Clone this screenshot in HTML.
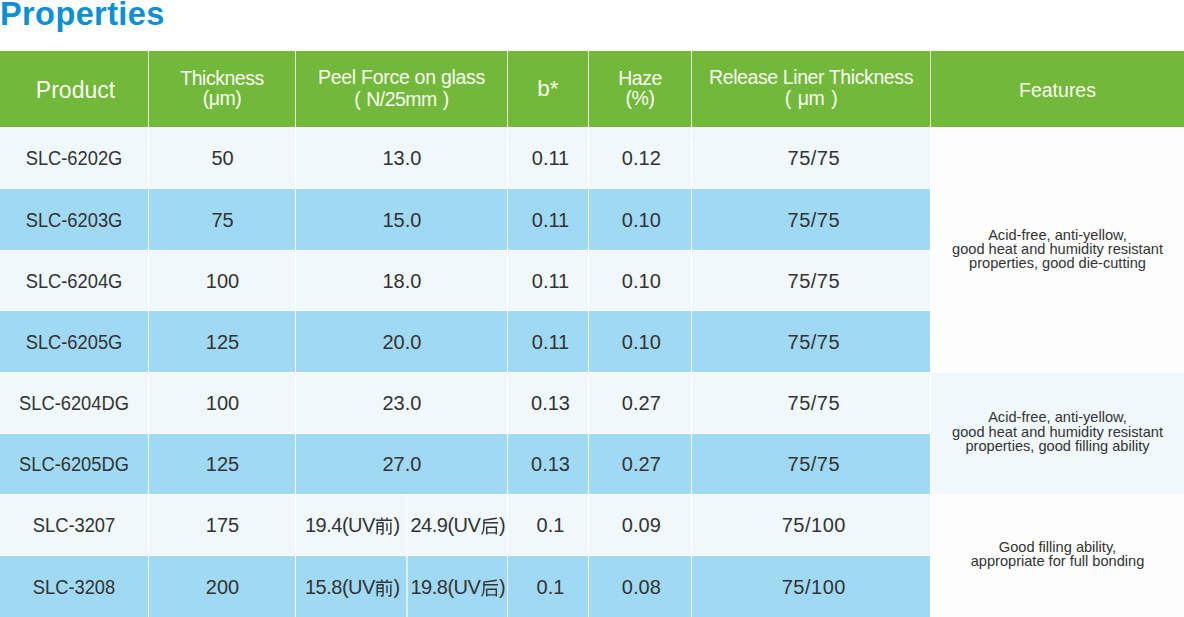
<!DOCTYPE html>
<html><head><meta charset="utf-8"><style>
html,body{margin:0;padding:0;background:#fff;}
body{width:1184px;height:617px;position:relative;overflow:hidden;font-family:"Liberation Sans",sans-serif;}
.r{position:absolute;}
.t{position:absolute;white-space:nowrap;}
.cjk{display:inline-block;width:18px;height:18px;vertical-align:-3px;margin-right:0.5px;}
</style></head><body>
<div class="t" style="left:0px;width:400px;top:-10.26px;height:49px;line-height:49px;font-size:32.5px;color:#0b8fd5;letter-spacing:0.4px;font-weight:700;text-align:left;">Properties</div>
<div class="r" style="left:0px;top:51px;width:1184px;height:76px;background:#72b83a"></div>
<div class="r" style="left:0px;top:128px;width:930px;height:60px;background:#f0f8fc"></div>
<div class="r" style="left:0px;top:189px;width:930px;height:61px;background:#a0d9f4"></div>
<div class="r" style="left:0px;top:251px;width:930px;height:59px;background:#f0f8fc"></div>
<div class="r" style="left:0px;top:311px;width:930px;height:61px;background:#a0d9f4"></div>
<div class="r" style="left:0px;top:373px;width:930px;height:60px;background:#f0f8fc"></div>
<div class="r" style="left:0px;top:434px;width:930px;height:60px;background:#a0d9f4"></div>
<div class="r" style="left:0px;top:495px;width:930px;height:60px;background:#f0f8fc"></div>
<div class="r" style="left:0px;top:556px;width:930px;height:61px;background:#a0d9f4"></div>
<div class="r" style="left:931px;top:128px;width:253px;height:244px;background:#fdfdfd"></div>
<div class="r" style="left:931px;top:373px;width:253px;height:121px;background:#f0f8fc"></div>
<div class="r" style="left:931px;top:495px;width:253px;height:122px;background:#fdfdfd"></div>
<div class="r" style="left:148px;top:51px;width:1px;height:76px;background:#eefbdc"></div>
<div class="r" style="left:148px;top:127px;width:1px;height:490px;background:#ffffff"></div>
<div class="r" style="left:295px;top:51px;width:1px;height:76px;background:#eefbdc"></div>
<div class="r" style="left:295px;top:127px;width:1px;height:490px;background:#ffffff"></div>
<div class="r" style="left:507px;top:51px;width:1px;height:76px;background:#eefbdc"></div>
<div class="r" style="left:507px;top:127px;width:1px;height:490px;background:#ffffff"></div>
<div class="r" style="left:588px;top:51px;width:1px;height:76px;background:#eefbdc"></div>
<div class="r" style="left:588px;top:127px;width:1px;height:490px;background:#ffffff"></div>
<div class="r" style="left:691px;top:51px;width:1px;height:76px;background:#eefbdc"></div>
<div class="r" style="left:691px;top:127px;width:1px;height:490px;background:#ffffff"></div>
<div class="r" style="left:930px;top:51px;width:1px;height:76px;background:#eefbdc"></div>
<div class="r" style="left:930px;top:127px;width:1px;height:490px;background:#ffffff"></div>
<div class="r" style="left:406px;top:495px;width:2px;height:60px;background:#f9fcfe"></div>
<div class="r" style="left:406px;top:556px;width:2px;height:61px;background:#d8f2fc"></div>
<div class="t" style="left:1.5px;width:148.0px;top:73.43px;height:34px;line-height:34px;font-size:23px;color:#fbfff2;letter-spacing:0px;font-weight:400;text-align:center;">Product</div>
<div class="t" style="left:149px;width:146px;top:63.54px;height:29px;line-height:29px;font-size:19.5px;color:#fbfff2;letter-spacing:-0.5px;font-weight:400;text-align:center;">Thickness</div>
<div class="t" style="left:149px;width:146px;top:83.54px;height:29px;line-height:29px;font-size:19.5px;color:#fbfff2;letter-spacing:-0.5px;font-weight:400;text-align:center;">(μm)</div>
<div class="t" style="left:296px;width:211px;top:63.24px;height:29px;line-height:29px;font-size:19.5px;color:#fbfff2;letter-spacing:-0.28px;font-weight:400;text-align:center;">Peel Force on glass</div>
<div class="t" style="left:296px;width:211px;top:84.54px;height:29px;line-height:29px;font-size:19.5px;color:#fbfff2;letter-spacing:-0.5px;font-weight:400;text-align:center;">(<span style="margin-left:6px"></span>N/25mm<span style="margin-left:6px"></span>)</div>
<div class="t" style="left:508px;width:80px;top:71.90px;height:34px;line-height:34px;font-size:22.5px;color:#fbfff2;letter-spacing:0px;font-weight:400;text-align:center;">b*</div>
<div class="t" style="left:589px;width:102px;top:63.54px;height:29px;line-height:29px;font-size:19.5px;color:#fbfff2;letter-spacing:-0.5px;font-weight:400;text-align:center;">Haze</div>
<div class="t" style="left:589px;width:102px;top:83.54px;height:29px;line-height:29px;font-size:19.5px;color:#fbfff2;letter-spacing:-0.5px;font-weight:400;text-align:center;">(%)</div>
<div class="t" style="left:692px;width:238px;top:63.44px;height:29px;line-height:29px;font-size:19.5px;color:#fbfff2;letter-spacing:-0.4px;font-weight:400;text-align:center;">Release Liner Thickness</div>
<div class="t" style="left:692px;width:238px;top:83.54px;height:29px;line-height:29px;font-size:19.5px;color:#fbfff2;letter-spacing:-0.5px;font-weight:400;text-align:center;">(<span style="margin-left:7px"></span>μm<span style="margin-left:7px"></span>)</div>
<div class="t" style="left:931px;width:253px;top:75.74px;height:29px;line-height:29px;font-size:19.5px;color:#fbfff2;letter-spacing:0px;font-weight:400;text-align:center;">Features</div>
<div class="t" style="left:-0.5px;width:148.0px;top:143.37px;height:30px;line-height:30px;font-size:20px;color:#333333;letter-spacing:0px;font-weight:400;text-align:center;transform:scaleX(0.915);transform-origin:50% 50%;">SLC-6202G</div>
<div class="t" style="left:149.5px;width:146.0px;top:143.37px;height:30px;line-height:30px;font-size:20px;color:#333333;letter-spacing:0px;font-weight:400;text-align:center;">50</div>
<div class="t" style="left:296.4px;width:211.0px;top:143.37px;height:30px;line-height:30px;font-size:20px;color:#333333;letter-spacing:0px;font-weight:400;text-align:center;">13.0</div>
<div class="t" style="left:510.5px;width:80.0px;top:143.37px;height:30px;line-height:30px;font-size:20px;color:#333333;letter-spacing:0px;font-weight:400;text-align:center;">0.11</div>
<div class="t" style="left:590.3px;width:102.0px;top:143.37px;height:30px;line-height:30px;font-size:20px;color:#333333;letter-spacing:0px;font-weight:400;text-align:center;">0.12</div>
<div class="t" style="left:694.8px;width:238.0px;top:143.37px;height:30px;line-height:30px;font-size:20px;color:#333333;letter-spacing:0.5px;font-weight:400;text-align:center;">75/75</div>
<div class="t" style="left:-0.5px;width:148.0px;top:204.87px;height:30px;line-height:30px;font-size:20px;color:#333333;letter-spacing:0px;font-weight:400;text-align:center;transform:scaleX(0.915);transform-origin:50% 50%;">SLC-6203G</div>
<div class="t" style="left:149.5px;width:146.0px;top:204.87px;height:30px;line-height:30px;font-size:20px;color:#333333;letter-spacing:0px;font-weight:400;text-align:center;">75</div>
<div class="t" style="left:296.4px;width:211.0px;top:204.87px;height:30px;line-height:30px;font-size:20px;color:#333333;letter-spacing:0px;font-weight:400;text-align:center;">15.0</div>
<div class="t" style="left:510.5px;width:80.0px;top:204.87px;height:30px;line-height:30px;font-size:20px;color:#333333;letter-spacing:0px;font-weight:400;text-align:center;">0.11</div>
<div class="t" style="left:590.3px;width:102.0px;top:204.87px;height:30px;line-height:30px;font-size:20px;color:#333333;letter-spacing:0px;font-weight:400;text-align:center;">0.10</div>
<div class="t" style="left:694.8px;width:238.0px;top:204.87px;height:30px;line-height:30px;font-size:20px;color:#333333;letter-spacing:0.5px;font-weight:400;text-align:center;">75/75</div>
<div class="t" style="left:-0.5px;width:148.0px;top:266.37px;height:30px;line-height:30px;font-size:20px;color:#333333;letter-spacing:0px;font-weight:400;text-align:center;transform:scaleX(0.915);transform-origin:50% 50%;">SLC-6204G</div>
<div class="t" style="left:149.5px;width:146.0px;top:266.37px;height:30px;line-height:30px;font-size:20px;color:#333333;letter-spacing:0px;font-weight:400;text-align:center;">100</div>
<div class="t" style="left:296.4px;width:211.0px;top:266.37px;height:30px;line-height:30px;font-size:20px;color:#333333;letter-spacing:0px;font-weight:400;text-align:center;">18.0</div>
<div class="t" style="left:510.5px;width:80.0px;top:266.37px;height:30px;line-height:30px;font-size:20px;color:#333333;letter-spacing:0px;font-weight:400;text-align:center;">0.11</div>
<div class="t" style="left:590.3px;width:102.0px;top:266.37px;height:30px;line-height:30px;font-size:20px;color:#333333;letter-spacing:0px;font-weight:400;text-align:center;">0.10</div>
<div class="t" style="left:694.8px;width:238.0px;top:266.37px;height:30px;line-height:30px;font-size:20px;color:#333333;letter-spacing:0.5px;font-weight:400;text-align:center;">75/75</div>
<div class="t" style="left:-0.5px;width:148.0px;top:327.37px;height:30px;line-height:30px;font-size:20px;color:#333333;letter-spacing:0px;font-weight:400;text-align:center;transform:scaleX(0.915);transform-origin:50% 50%;">SLC-6205G</div>
<div class="t" style="left:149.5px;width:146.0px;top:327.37px;height:30px;line-height:30px;font-size:20px;color:#333333;letter-spacing:0px;font-weight:400;text-align:center;">125</div>
<div class="t" style="left:296.4px;width:211.0px;top:327.37px;height:30px;line-height:30px;font-size:20px;color:#333333;letter-spacing:0px;font-weight:400;text-align:center;">20.0</div>
<div class="t" style="left:510.5px;width:80.0px;top:327.37px;height:30px;line-height:30px;font-size:20px;color:#333333;letter-spacing:0px;font-weight:400;text-align:center;">0.11</div>
<div class="t" style="left:590.3px;width:102.0px;top:327.37px;height:30px;line-height:30px;font-size:20px;color:#333333;letter-spacing:0px;font-weight:400;text-align:center;">0.10</div>
<div class="t" style="left:694.8px;width:238.0px;top:327.37px;height:30px;line-height:30px;font-size:20px;color:#333333;letter-spacing:0.5px;font-weight:400;text-align:center;">75/75</div>
<div class="t" style="left:-0.5px;width:148.0px;top:388.37px;height:30px;line-height:30px;font-size:20px;color:#333333;letter-spacing:0px;font-weight:400;text-align:center;transform:scaleX(0.915);transform-origin:50% 50%;">SLC-6204DG</div>
<div class="t" style="left:149.5px;width:146.0px;top:388.37px;height:30px;line-height:30px;font-size:20px;color:#333333;letter-spacing:0px;font-weight:400;text-align:center;">100</div>
<div class="t" style="left:296.4px;width:211.0px;top:388.37px;height:30px;line-height:30px;font-size:20px;color:#333333;letter-spacing:0px;font-weight:400;text-align:center;">23.0</div>
<div class="t" style="left:510.5px;width:80.0px;top:388.37px;height:30px;line-height:30px;font-size:20px;color:#333333;letter-spacing:0px;font-weight:400;text-align:center;">0.13</div>
<div class="t" style="left:590.3px;width:102.0px;top:388.37px;height:30px;line-height:30px;font-size:20px;color:#333333;letter-spacing:0px;font-weight:400;text-align:center;">0.27</div>
<div class="t" style="left:694.8px;width:238.0px;top:388.37px;height:30px;line-height:30px;font-size:20px;color:#333333;letter-spacing:0.5px;font-weight:400;text-align:center;">75/75</div>
<div class="t" style="left:-0.5px;width:148.0px;top:449.37px;height:30px;line-height:30px;font-size:20px;color:#333333;letter-spacing:0px;font-weight:400;text-align:center;transform:scaleX(0.915);transform-origin:50% 50%;">SLC-6205DG</div>
<div class="t" style="left:149.5px;width:146.0px;top:449.37px;height:30px;line-height:30px;font-size:20px;color:#333333;letter-spacing:0px;font-weight:400;text-align:center;">125</div>
<div class="t" style="left:296.4px;width:211.0px;top:449.37px;height:30px;line-height:30px;font-size:20px;color:#333333;letter-spacing:0px;font-weight:400;text-align:center;">27.0</div>
<div class="t" style="left:510.5px;width:80.0px;top:449.37px;height:30px;line-height:30px;font-size:20px;color:#333333;letter-spacing:0px;font-weight:400;text-align:center;">0.13</div>
<div class="t" style="left:590.3px;width:102.0px;top:449.37px;height:30px;line-height:30px;font-size:20px;color:#333333;letter-spacing:0px;font-weight:400;text-align:center;">0.27</div>
<div class="t" style="left:694.8px;width:238.0px;top:449.37px;height:30px;line-height:30px;font-size:20px;color:#333333;letter-spacing:0.5px;font-weight:400;text-align:center;">75/75</div>
<div class="t" style="left:-0.5px;width:148.0px;top:510.37px;height:30px;line-height:30px;font-size:20px;color:#333333;letter-spacing:0px;font-weight:400;text-align:center;transform:scaleX(0.915);transform-origin:50% 50%;">SLC-3207</div>
<div class="t" style="left:149.5px;width:146.0px;top:510.37px;height:30px;line-height:30px;font-size:20px;color:#333333;letter-spacing:0px;font-weight:400;text-align:center;">175</div>
<div class="t" style="left:510.5px;width:80.0px;top:510.37px;height:30px;line-height:30px;font-size:20px;color:#333333;letter-spacing:0px;font-weight:400;text-align:center;">0.1</div>
<div class="t" style="left:590.3px;width:102.0px;top:510.37px;height:30px;line-height:30px;font-size:20px;color:#333333;letter-spacing:0px;font-weight:400;text-align:center;">0.09</div>
<div class="t" style="left:694.8px;width:238.0px;top:510.37px;height:30px;line-height:30px;font-size:20px;color:#333333;letter-spacing:0.5px;font-weight:400;text-align:center;">75/100</div>
<div class="t" style="left:-0.5px;width:148.0px;top:571.87px;height:30px;line-height:30px;font-size:20px;color:#333333;letter-spacing:0px;font-weight:400;text-align:center;transform:scaleX(0.915);transform-origin:50% 50%;">SLC-3208</div>
<div class="t" style="left:149.5px;width:146.0px;top:571.87px;height:30px;line-height:30px;font-size:20px;color:#333333;letter-spacing:0px;font-weight:400;text-align:center;">200</div>
<div class="t" style="left:510.5px;width:80.0px;top:571.87px;height:30px;line-height:30px;font-size:20px;color:#333333;letter-spacing:0px;font-weight:400;text-align:center;">0.1</div>
<div class="t" style="left:590.3px;width:102.0px;top:571.87px;height:30px;line-height:30px;font-size:20px;color:#333333;letter-spacing:0px;font-weight:400;text-align:center;">0.08</div>
<div class="t" style="left:694.8px;width:238.0px;top:571.87px;height:30px;line-height:30px;font-size:20px;color:#333333;letter-spacing:0.5px;font-weight:400;text-align:center;">75/100</div>
<div class="t" style="left:305px;width:95px;top:510.37px;height:30px;line-height:30px;font-size:20px;color:#333333;letter-spacing:-0.5px;font-weight:400;text-align:left;">19.4(UV<span class="cjk"><svg width="18" height="18" viewBox="0 0 18 18" fill="none" stroke="#333333" stroke-width="1.4" stroke-linecap="butt"><path d="M6.2 0.6 L7.4 2.3 M12.6 0.6 L11.5 2.4 M0.8 3.3 H17.2 M2.2 5.8 V17.3 M2.2 5.8 H8 V16.4 Q8 17 7.2 17 H5.8 M2.2 9.3 H8 M2.2 12.6 H8 M12 6.2 V14 M15.8 5.2 V16.2 Q15.8 17 15 17 H13.3"/></svg></span>)</div>
<div class="t" style="left:410.5px;width:97.0px;top:510.37px;height:30px;line-height:30px;font-size:20px;color:#333333;letter-spacing:-0.5px;font-weight:400;text-align:left;">24.9(UV<span class="cjk"><svg width="18" height="18" viewBox="0 0 18 18" fill="none" stroke="#333333" stroke-width="1.4" stroke-linecap="butt"><path d="M16.8 1.2 Q10 2.4 3.9 3.1 V10.5 Q3.9 14.5 1.7 17.4 M3.9 5.8 H18 M6.7 9.9 V17.6 M6.7 10.2 H16.3 V17.6 M6.7 15.9 H16.3"/></svg></span>)</div>
<div class="t" style="left:305px;width:95px;top:571.87px;height:30px;line-height:30px;font-size:20px;color:#333333;letter-spacing:-0.5px;font-weight:400;text-align:left;">15.8(UV<span class="cjk"><svg width="18" height="18" viewBox="0 0 18 18" fill="none" stroke="#333333" stroke-width="1.4" stroke-linecap="butt"><path d="M6.2 0.6 L7.4 2.3 M12.6 0.6 L11.5 2.4 M0.8 3.3 H17.2 M2.2 5.8 V17.3 M2.2 5.8 H8 V16.4 Q8 17 7.2 17 H5.8 M2.2 9.3 H8 M2.2 12.6 H8 M12 6.2 V14 M15.8 5.2 V16.2 Q15.8 17 15 17 H13.3"/></svg></span>)</div>
<div class="t" style="left:410.5px;width:97.0px;top:571.87px;height:30px;line-height:30px;font-size:20px;color:#333333;letter-spacing:-0.5px;font-weight:400;text-align:left;">19.8(UV<span class="cjk"><svg width="18" height="18" viewBox="0 0 18 18" fill="none" stroke="#333333" stroke-width="1.4" stroke-linecap="butt"><path d="M16.8 1.2 Q10 2.4 3.9 3.1 V10.5 Q3.9 14.5 1.7 17.4 M3.9 5.8 H18 M6.7 9.9 V17.6 M6.7 10.2 H16.3 V17.6 M6.7 15.9 H16.3"/></svg></span>)</div>
<div class="t" style="left:931px;width:253px;top:223.74px;height:22px;line-height:22px;font-size:14.6px;color:#333333;letter-spacing:0px;font-weight:400;text-align:center;">Acid-free, anti-yellow,</div>
<div class="t" style="left:931px;width:253px;top:238.04px;height:22px;line-height:22px;font-size:14.6px;color:#333333;letter-spacing:0px;font-weight:400;text-align:center;">good heat and humidity resistant</div>
<div class="t" style="left:931px;width:253px;top:252.34px;height:22px;line-height:22px;font-size:14.6px;color:#333333;letter-spacing:0px;font-weight:400;text-align:center;">properties, good die-cutting</div>
<div class="t" style="left:931px;width:253px;top:406.44px;height:22px;line-height:22px;font-size:14.6px;color:#333333;letter-spacing:0px;font-weight:400;text-align:center;">Acid-free, anti-yellow,</div>
<div class="t" style="left:931px;width:253px;top:420.74px;height:22px;line-height:22px;font-size:14.6px;color:#333333;letter-spacing:0px;font-weight:400;text-align:center;">good heat and humidity resistant</div>
<div class="t" style="left:931px;width:253px;top:435.04px;height:22px;line-height:22px;font-size:14.6px;color:#333333;letter-spacing:0px;font-weight:400;text-align:center;">properties, good filling ability</div>
<div class="t" style="left:931px;width:253px;top:535.54px;height:22px;line-height:22px;font-size:14.6px;color:#333333;letter-spacing:0px;font-weight:400;text-align:center;">Good filling ability,</div>
<div class="t" style="left:931px;width:253px;top:549.84px;height:22px;line-height:22px;font-size:14.6px;color:#333333;letter-spacing:0px;font-weight:400;text-align:center;">appropriate for full bonding</div>
</body></html>
